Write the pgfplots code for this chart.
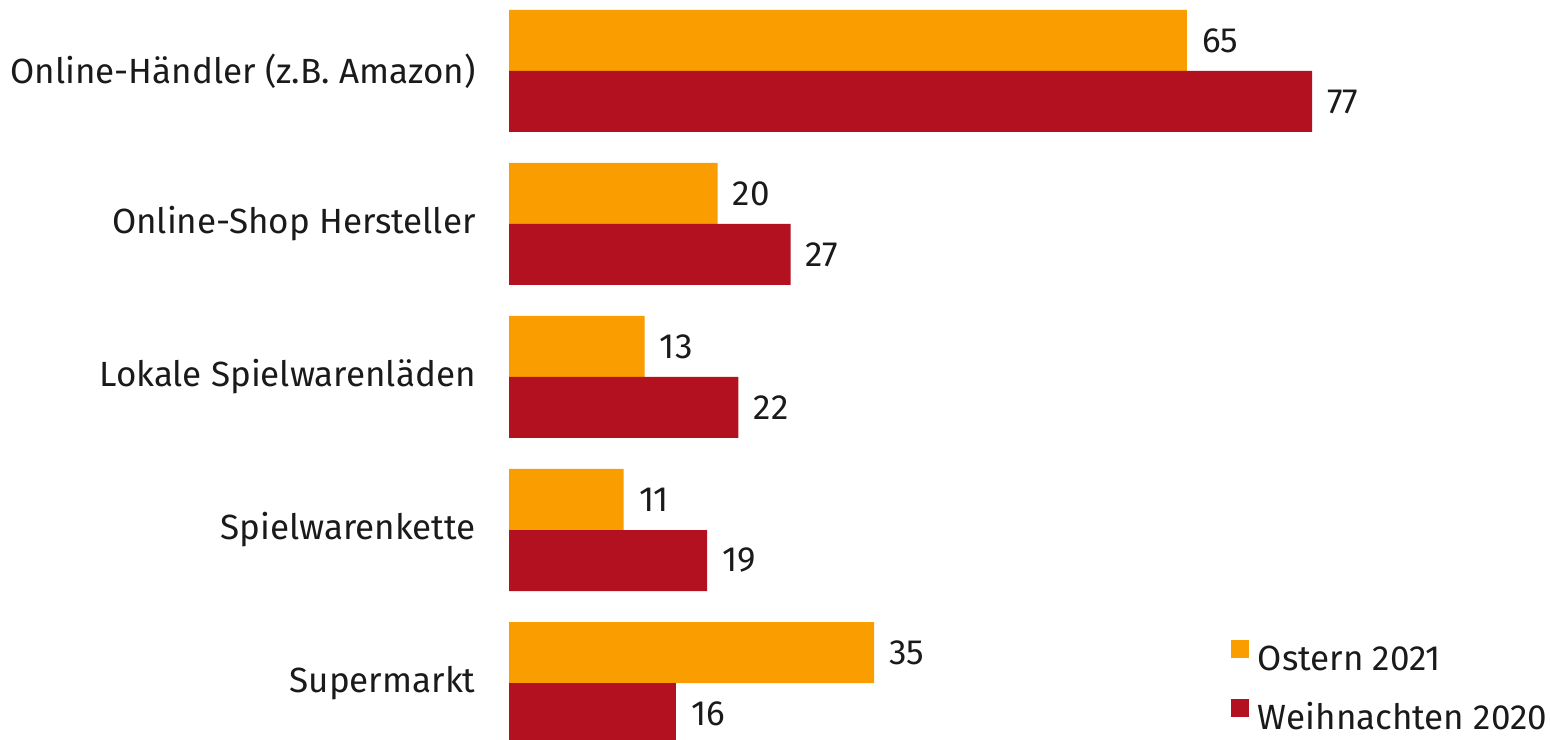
\documentclass[border=0pt]{standalone}
\usepackage{pgfplots}
\pgfplotsset{compat=1.18}
\usepackage{fontspec}
\setmainfont{Fira Sans}

\definecolor{ostern}{RGB}{249,157,0}
\definecolor{weihn}{RGB}{179,16,32}
\definecolor{txt}{RGB}{26,26,26}

\begin{document}
\begin{tikzpicture}
\begin{axis}[
    at={(254.5pt,28pt)}, anchor=origin,
    x=5.2143pt, y=76.5pt,
    xmin=0, xmax=100, ymin=-0.6, ymax=4.6,
    clip=false,
    axis line style={draw=none},
    xtick=\empty,
    ytick={0,1,2,3,4},
    yticklabels={Supermarkt, Spielwarenkette, Lokale Spielwarenläden,
                 Online-Shop Hersteller, Online-Händler (z.B. Amazon)},
    major tick length=0pt,
    /pgf/number format/assume math mode=true,
    tick label style={font=\fontsize{17.5}{20}\selectfont, text=txt},
    yticklabel style={inner sep=0pt, xshift=-16.5pt, anchor=east},
    every node near coord/.style={anchor=west, inner sep=0pt, xshift=7.5pt,
        font=\fontsize{17.5}{20}\selectfont, text=txt},
    legend cell align=left,
    legend style={
        at={(axis cs:69.23,0.28)}, anchor=north west,
        draw=none, fill=none, inner sep=0pt, outer sep=0pt,
        font=\fontsize{17.5}{20}\selectfont,
        nodes={inner sep=0pt, text height=13pt, text depth=4pt, text=txt},
        row sep=10.5pt, column sep=4.5pt,
    },
]
% Ostern 2021
\addplot[xbar, bar width=30.5pt, bar shift=15.25pt, fill=ostern, draw=none,
    nodes near coords,
    every node near coord/.append style={yshift=15.25pt},
    legend image code/.code={\fill[ostern] (0pt,1.6pt) rectangle (9pt,10.6pt);}]
    coordinates {(65,4) (20,3) (13,2) (11,1) (35,0)};
\addlegendentry{Ostern 2021}
% Weihnachten 2020
\addplot[xbar, bar width=30.5pt, bar shift=-15.25pt, fill=weihn, draw=none,
    nodes near coords,
    every node near coord/.append style={yshift=-15.25pt},
    legend image code/.code={\fill[weihn] (0pt,1.6pt) rectangle (9pt,10.6pt);}]
    coordinates {(77,4) (27,3) (22,2) (19,1) (16,0)};
\addlegendentry{Weihnachten 2020}
\end{axis}
\pgfresetboundingbox
\path[use as bounding box] (0,0) rectangle (775pt,369.5pt);
\end{tikzpicture}
\end{document}
